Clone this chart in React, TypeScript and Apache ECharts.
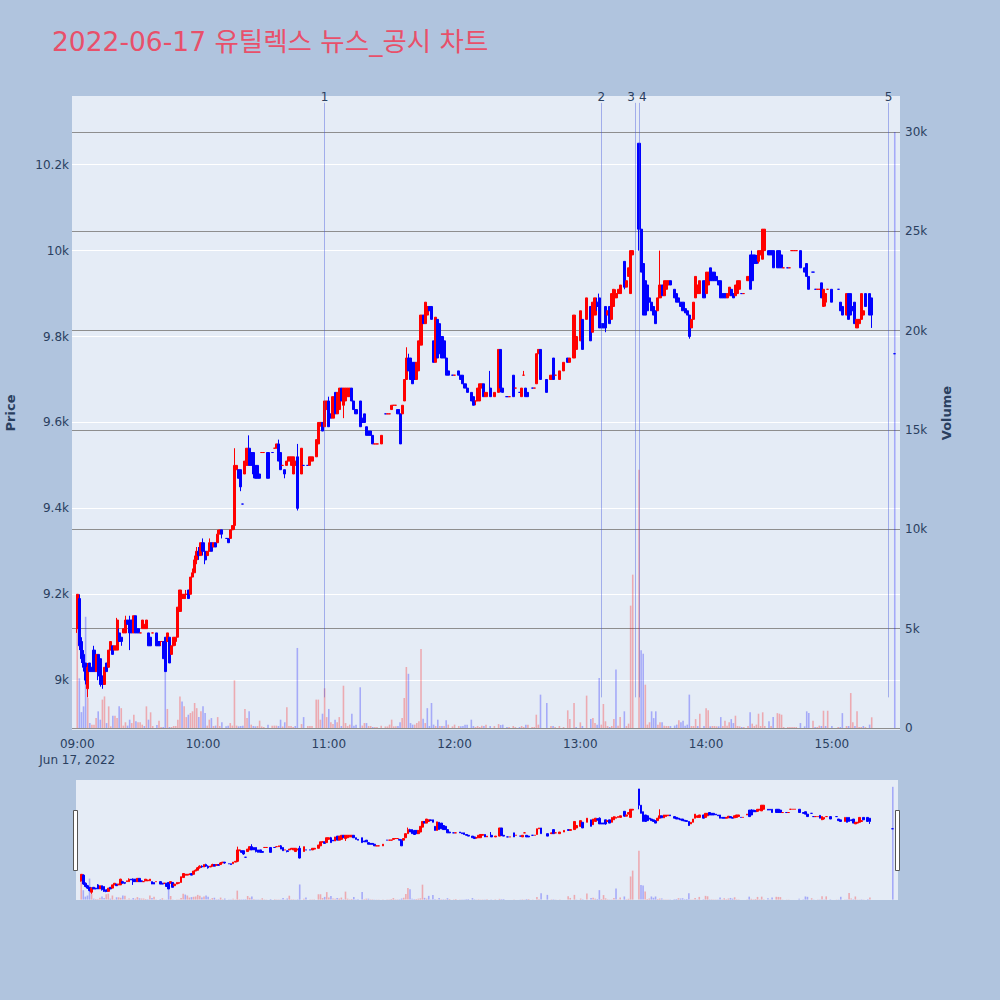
import React, { useEffect, useRef } from 'react';
import * as echarts from 'echarts';

const chartTitle = '2022-06-17 유틸렉스 뉴스_공시 차트';
const dateLabel = 'Jun 17, 2022';
const newsTimes = ['10:58', '13:10', '13:26', '13:28', '15:27'];
const newsLabels = ['1', '2', '3', '4', '5'];
const newsAlign = ['center', 'center', 'right', 'left', 'center'];

// [time, open, close, low, high, volume]
const candles: [string, number, number, number, number, number][] = [
  ['09:00', 9120, 9200, 9110, 9200, 6000], ['09:01', 9190, 9080, 9070, 9200, 2500],
  ['09:02', 9090, 9050, 9040, 9100, 800], ['09:03', 9060, 9030, 9020, 9070, 1090],
  ['09:04', 9040, 9000, 8990, 9040, 5600], ['09:05', 8980, 9030, 8960, 9040, 1510],
  ['09:06', 9040, 9020, 9020, 9040, 250], ['09:07', 9030, 9020, 9020, 9030, 170],
  ['09:08', 9070, 9020, 9020, 9080, 170], ['09:09', 9020, 9060, 9020, 9060, 500],
  ['09:10', 9060, 9010, 9000, 9060, 840], ['09:11', 9050, 8990, 8985, 9050, 420],
  ['09:12', 9010, 8990, 8980, 9010, 1430], ['09:13', 8990, 9030, 8990, 9030, 1590],
  ['09:14', 9040, 9020, 9020, 9040, 250], ['09:15', 9030, 9070, 9030, 9070, 1090],
  ['09:16', 9070, 9090, 9070, 9090, 85], ['09:17', 9080, 9060, 9060, 9080, 620],
  ['09:18', 9070, 9080, 9070, 9080, 620], ['09:19', 9070, 9140, 9070, 9145, 500],
  ['09:20', 9110, 9090, 9090, 9120, 1090], ['09:21', 9100, 9090, 9080, 9100, 1000],
  ['09:22', 9110, 9120, 9110, 9120, 120], ['09:23', 9110, 9140, 9110, 9150, 290],
  ['09:24', 9140, 9130, 9130, 9140, 120], ['09:25', 9140, 9110, 9070, 9150, 420],
  ['09:26', 9140, 9110, 9110, 9140, 250], ['09:27', 9110, 9150, 9110, 9150, 670],
  ['09:28', 9150, 9110, 9110, 9150, 340], ['09:29', 9120, 9110, 9110, 9120, 290],
  ['09:30', 9110, 9110, 9110, 9110, 290], ['09:31', 9120, 9140, 9120, 9140, 170],
  ['09:32', 9120, 9130, 9120, 9130, 100], ['09:33', 9120, 9140, 9120, 9140, 1090],
  ['09:34', 9110, 9080, 9080, 9110, 420], ['09:35', 9100, 9080, 9080, 9100, 790],
  ['09:36', 9110, 9110, 9110, 9110, 100], ['09:38', 9110, 9080, 9080, 9110, 150],
  ['09:39', 9090, 9080, 9080, 9090, 370], ['09:40', 9090, 9090, 9080, 9090, 50],
  ['09:41', 9090, 9050, 9050, 9090, 50], ['09:42', 9100, 9020, 9020, 9100, 4400],
  ['09:43', 9090, 9110, 9090, 9110, 960], ['09:44', 9100, 9040, 9040, 9100, 50],
  ['09:45', 9060, 9080, 9060, 9080, 50], ['09:46', 9080, 9100, 9080, 9100, 100],
  ['09:47', 9090, 9100, 9080, 9100, 100], ['09:48', 9100, 9170, 9100, 9170, 420],
  ['09:49', 9160, 9210, 9160, 9210, 1590], ['09:50', 9190, 9200, 9190, 9200, 1340],
  ['09:51', 9190, 9200, 9190, 9200, 1090], ['09:52', 9200, 9200, 9190, 9210, 550],
  ['09:53', 9210, 9190, 9190, 9210, 670], ['09:54', 9200, 9240, 9200, 9240, 755],
  ['09:55', 9240, 9250, 9240, 9260, 840], ['09:56', 9250, 9280, 9250, 9290, 1260],
  ['09:57', 9280, 9300, 9270, 9310, 1000], ['09:58', 9300, 9290, 9280, 9310, 550],
  ['09:59', 9290, 9320, 9290, 9320, 840], ['10:00', 9320, 9300, 9290, 9330, 1090],
  ['10:01', 9300, 9280, 9270, 9310, 750], ['10:02', 9290, 9300, 9290, 9300, 120],
  ['10:03', 9300, 9320, 9300, 9330, 420], ['10:04', 9320, 9300, 9300, 9320, 500],
  ['10:05', 9310, 9320, 9310, 9320, 100], ['10:06', 9320, 9310, 9310, 9320, 120],
  ['10:07', 9320, 9340, 9320, 9350, 550], ['10:08', 9340, 9350, 9340, 9350, 100],
  ['10:09', 9350, 9340, 9330, 9350, 290], ['10:11', 9330, 9330, 9330, 9330, 85],
  ['10:12', 9330, 9320, 9320, 9330, 120], ['10:13', 9330, 9350, 9330, 9350, 250],
  ['10:14', 9350, 9360, 9350, 9360, 120], ['10:15', 9360, 9500, 9350, 9540, 2400],
  ['10:16', 9490, 9500, 9490, 9500, 120], ['10:17', 9490, 9470, 9470, 9490, 85],
  ['10:18', 9490, 9450, 9440, 9490, 100], ['10:19', 9410, 9410, 9410, 9410, 120],
  ['10:20', 9480, 9510, 9480, 9510, 960], ['10:21', 9500, 9540, 9500, 9540, 500],
  ['10:22', 9540, 9500, 9500, 9570, 840], ['10:23', 9530, 9500, 9500, 9530, 170],
  ['10:24', 9530, 9480, 9470, 9530, 100], ['10:25', 9500, 9470, 9470, 9500, 85],
  ['10:26', 9500, 9470, 9470, 9500, 100], ['10:27', 9480, 9470, 9470, 9480, 370],
  ['10:28', 9530, 9530, 9530, 9530, 80], ['10:29', 9530, 9530, 9530, 9530, 50],
  ['10:31', 9530, 9470, 9470, 9530, 170], ['10:33', 9530, 9530, 9530, 9530, 120],
  ['10:34', 9540, 9540, 9540, 9540, 120], ['10:35', 9540, 9550, 9540, 9550, 120],
  ['10:36', 9550, 9510, 9510, 9560, 100], ['10:37', 9530, 9490, 9490, 9530, 420],
  ['10:38', 9500, 9500, 9500, 9500, 80], ['10:39', 9490, 9480, 9470, 9490, 290],
  ['10:40', 9500, 9510, 9500, 9510, 1040], ['10:41', 9510, 9520, 9510, 9520, 100],
  ['10:42', 9500, 9520, 9500, 9520, 100], ['10:43', 9480, 9520, 9480, 9520, 50],
  ['10:44', 9500, 9510, 9500, 9510, 100], ['10:45', 9520, 9400, 9395, 9550, 4030],
  ['10:47', 9480, 9540, 9480, 9540, 200], ['10:48', 9500, 9500, 9500, 9500, 550],
  ['10:50', 9500, 9500, 9500, 9500, 100], ['10:51', 9500, 9520, 9500, 9520, 100],
  ['10:52', 9510, 9520, 9510, 9520, 100], ['10:54', 9520, 9560, 9520, 9560, 1430],
  ['10:55', 9550, 9600, 9550, 9600, 1430], ['10:56', 9600, 9600, 9590, 9600, 420],
  ['10:57', 9600, 9580, 9580, 9600, 720], ['10:58', 9590, 9650, 9590, 9650, 2000],
  ['10:59', 9630, 9650, 9630, 9650, 550], ['11:00', 9650, 9590, 9590, 9660, 960],
  ['11:01', 9620, 9610, 9610, 9620, 290], ['11:02', 9610, 9660, 9610, 9660, 200],
  ['11:03', 9670, 9620, 9620, 9670, 420], ['11:04', 9620, 9670, 9620, 9670, 290],
  ['11:05', 9630, 9680, 9630, 9680, 550], ['11:06', 9680, 9650, 9650, 9680, 100],
  ['11:07', 9640, 9680, 9610, 9680, 2130], ['11:08', 9650, 9680, 9650, 9680, 250],
  ['11:09', 9660, 9680, 9660, 9680, 100], ['11:10', 9660, 9680, 9660, 9680, 170],
  ['11:11', 9680, 9650, 9650, 9680, 720], ['11:12', 9650, 9630, 9630, 9650, 120],
  ['11:13', 9630, 9620, 9620, 9630, 170], ['11:15', 9650, 9590, 9590, 9650, 2050],
  ['11:16', 9610, 9600, 9600, 9610, 120], ['11:17', 9620, 9600, 9600, 9620, 250],
  ['11:18', 9590, 9570, 9570, 9590, 250], ['11:19', 9580, 9570, 9570, 9580, 100],
  ['11:20', 9580, 9570, 9570, 9580, 100], ['11:21', 9570, 9550, 9550, 9570, 50],
  ['11:22', 9550, 9550, 9550, 9550, 50], ['11:23', 9550, 9550, 9550, 9550, 50],
  ['11:25', 9550, 9570, 9550, 9570, 120], ['11:27', 9620, 9620, 9620, 9620, 80],
  ['11:28', 9620, 9620, 9620, 9620, 80], ['11:29', 9620, 9620, 9620, 9620, 170],
  ['11:30', 9630, 9640, 9630, 9640, 420], ['11:31', 9640, 9640, 9640, 9640, 85],
  ['11:32', 9640, 9640, 9640, 9640, 85], ['11:33', 9630, 9620, 9620, 9630, 100],
  ['11:34', 9620, 9550, 9550, 9630, 290], ['11:35', 9620, 9640, 9620, 9640, 500],
  ['11:36', 9650, 9700, 9650, 9700, 1510], ['11:37', 9700, 9750, 9700, 9775, 3070],
  ['11:38', 9750, 9720, 9720, 9760, 2730], ['11:39', 9750, 9700, 9700, 9750, 250],
  ['11:40', 9740, 9690, 9690, 9740, 170], ['11:41', 9740, 9700, 9700, 9740, 170],
  ['11:42', 9700, 9740, 9700, 9740, 250], ['11:43', 9720, 9790, 9720, 9790, 340],
  ['11:44', 9780, 9850, 9780, 9850, 3980], ['11:45', 9850, 9830, 9830, 9850, 470],
  ['11:46', 9830, 9880, 9830, 9880, 250], ['11:47', 9850, 9870, 9850, 9870, 1000],
  ['11:48', 9870, 9860, 9860, 9870, 100], ['11:49', 9870, 9840, 9840, 9870, 1260],
  ['11:50', 9790, 9740, 9740, 9790, 170], ['11:51', 9740, 9845, 9740, 9845, 100],
  ['11:52', 9840, 9750, 9750, 9840, 420], ['11:53', 9830, 9760, 9760, 9830, 100],
  ['11:54', 9800, 9750, 9750, 9800, 100], ['11:55', 9790, 9750, 9750, 9790, 100],
  ['11:56', 9750, 9710, 9710, 9750, 390], ['11:57', 9720, 9710, 9710, 9720, 170],
  ['11:59', 9710, 9710, 9710, 9710, 85], ['12:00', 9710, 9710, 9710, 9710, 170],
  ['12:02', 9720, 9710, 9710, 9720, 100], ['12:03', 9710, 9700, 9700, 9710, 85],
  ['12:04', 9710, 9690, 9690, 9710, 100], ['12:05', 9690, 9680, 9680, 9690, 170],
  ['12:06', 9680, 9670, 9670, 9680, 170], ['12:08', 9670, 9650, 9650, 9670, 420],
  ['12:09', 9660, 9640, 9640, 9660, 100], ['12:10', 9650, 9650, 9640, 9650, 50],
  ['12:11', 9650, 9680, 9650, 9680, 100], ['12:12', 9650, 9690, 9650, 9690, 50],
  ['12:13', 9680, 9690, 9680, 9690, 120], ['12:14', 9690, 9660, 9660, 9690, 100],
  ['12:15', 9660, 9670, 9660, 9670, 170], ['12:17', 9680, 9660, 9660, 9720, 100],
  ['12:19', 9660, 9670, 9660, 9670, 100], ['12:21', 9670, 9770, 9670, 9770, 200],
  ['12:22', 9770, 9680, 9670, 9770, 150], ['12:23', 9680, 9670, 9670, 9680, 170],
  ['12:25', 9660, 9660, 9660, 9660, 50], ['12:26', 9660, 9660, 9660, 9660, 50],
  ['12:28', 9710, 9660, 9660, 9710, 100], ['12:29', 9680, 9680, 9680, 9680, 50],
  ['12:31', 9670, 9670, 9670, 9670, 50], ['12:32', 9660, 9680, 9660, 9680, 100],
  ['12:33', 9710, 9710, 9710, 9720, 50], ['12:34', 9680, 9660, 9660, 9680, 170],
  ['12:35', 9670, 9660, 9660, 9670, 170], ['12:37', 9680, 9680, 9680, 9680, 50],
  ['12:38', 9680, 9680, 9680, 9680, 50], ['12:39', 9690, 9760, 9690, 9760, 670],
  ['12:40', 9760, 9770, 9760, 9770, 170], ['12:41', 9770, 9700, 9700, 9770, 1680],
  ['12:44', 9700, 9670, 9670, 9700, 1260], ['12:46', 9700, 9710, 9700, 9710, 100],
  ['12:47', 9750, 9700, 9700, 9750, 100], ['12:48', 9710, 9710, 9710, 9710, 50],
  ['12:50', 9700, 9720, 9700, 9720, 100], ['12:52', 9720, 9740, 9720, 9740, 50],
  ['12:54', 9750, 9740, 9740, 9750, 890], ['12:55', 9740, 9750, 9740, 9750, 450],
  ['12:57', 9750, 9850, 9750, 9850, 1260], ['12:58', 9770, 9800, 9770, 9800, 50],
  ['13:00', 9790, 9860, 9790, 9860, 285], ['13:01', 9840, 9770, 9770, 9840, 100],
  ['13:03', 9840, 9890, 9840, 9890, 1630], ['13:05', 9870, 9790, 9790, 9870, 450],
  ['13:06', 9810, 9880, 9810, 9880, 500], ['13:07', 9850, 9890, 9850, 9890, 250],
  ['13:08', 9880, 9870, 9860, 9890, 170], ['13:09', 9890, 9820, 9820, 9900, 2520],
  ['13:10', 9830, 9820, 9820, 9830, 170], ['13:11', 9830, 9820, 9820, 9830, 1210],
  ['13:12', 9870, 9820, 9810, 9870, 340], ['13:13', 9850, 9860, 9850, 9860, 100],
  ['13:14', 9870, 9830, 9830, 9870, 50], ['13:15', 9840, 9900, 9840, 9900, 100],
  ['13:16', 9870, 9910, 9870, 9910, 450], ['13:17', 9890, 9900, 9890, 9910, 2940],
  ['13:18', 9900, 9910, 9900, 9910, 120], ['13:19', 9900, 9920, 9900, 9920, 550],
  ['13:21', 9975, 9915, 9910, 9975, 840], ['13:22', 9915, 9930, 9915, 9930, 100],
  ['13:23', 9940, 9960, 9940, 9960, 220], ['13:24', 9900, 10000, 9900, 10000, 6160],
  ['13:25', 9990, 10000, 9990, 10000, 7720], ['13:28', 10250, 10050, 10000, 10250, 13000],
  ['13:29', 10050, 9950, 9950, 10050, 3910], ['13:30', 9970, 9850, 9850, 9970, 3740],
  ['13:31', 9930, 9850, 9850, 9930, 2180], ['13:32', 9920, 9860, 9860, 9920, 170],
  ['13:33', 9890, 9880, 9880, 9890, 290], ['13:34', 9880, 9860, 9860, 9880, 840],
  ['13:35', 9870, 9850, 9850, 9870, 500], ['13:36', 9860, 9830, 9830, 9860, 840],
  ['13:37', 9860, 9890, 9860, 9890, 170], ['13:38', 9890, 9920, 9890, 10000, 290],
  ['13:39', 9920, 9895, 9895, 9920, 290], ['13:40', 9895, 9930, 9895, 9930, 120],
  ['13:41', 9910, 9930, 9910, 9930, 100], ['13:42', 9920, 9930, 9920, 9930, 100],
  ['13:43', 9930, 9920, 9920, 9930, 100], ['13:45', 9910, 9890, 9890, 9910, 120],
  ['13:46', 9900, 9880, 9880, 9900, 170], ['13:47', 9890, 9880, 9880, 9890, 390],
  ['13:48', 9880, 9870, 9870, 9880, 290], ['13:49', 9880, 9860, 9860, 9880, 370],
  ['13:50', 9865, 9855, 9855, 9865, 120], ['13:51', 9860, 9850, 9850, 9860, 170],
  ['13:52', 9850, 9800, 9795, 9850, 1680], ['13:53', 9820, 9840, 9820, 9840, 100],
  ['13:54', 9840, 9880, 9840, 9880, 100], ['13:55', 9890, 9940, 9890, 9940, 450],
  ['13:56', 9900, 9920, 9900, 9920, 100], ['13:57', 9900, 9930, 9900, 9930, 720],
  ['13:59', 9930, 9890, 9890, 9930, 100], ['14:00', 9900, 9950, 9900, 9950, 1000],
  ['14:01', 9920, 9950, 9920, 9950, 890], ['14:02', 9960, 9930, 9930, 9960, 85],
  ['14:03', 9950, 9930, 9930, 9950, 100], ['14:04', 9950, 9930, 9930, 9950, 100],
  ['14:05', 9940, 9930, 9930, 9940, 85], ['14:06', 9930, 9920, 9920, 9930, 85],
  ['14:07', 9930, 9890, 9890, 9930, 550], ['14:08', 9900, 9890, 9890, 9900, 100],
  ['14:09', 9900, 9890, 9890, 9900, 370], ['14:10', 9890, 9900, 9890, 9900, 120],
  ['14:11', 9895, 9915, 9895, 9915, 290], ['14:12', 9910, 9895, 9895, 9910, 450],
  ['14:13', 9900, 9890, 9890, 9900, 250], ['14:14', 9895, 9920, 9895, 9920, 620],
  ['14:15', 9900, 9930, 9900, 9930, 100], ['14:16', 9910, 9930, 9910, 9930, 85],
  ['14:17', 9900, 9900, 9900, 9900, 50], ['14:18', 9900, 9900, 9900, 9900, 50],
  ['14:20', 9930, 9940, 9930, 9940, 100], ['14:21', 9990, 9910, 9910, 9990, 790],
  ['14:22', 9990, 9930, 9930, 10000, 220], ['14:23', 9990, 9970, 9970, 9990, 100],
  ['14:24', 9980, 9970, 9970, 9990, 170], ['14:25', 9975, 10000, 9970, 10000, 720],
  ['14:26', 9990, 10000, 9990, 10000, 100], ['14:27', 9980, 10050, 9980, 10050, 790],
  ['14:28', 10000, 10050, 10000, 10050, 100], ['14:30', 10000, 9990, 9990, 10000, 340],
  ['14:31', 10000, 9990, 9990, 10000, 100], ['14:32', 10000, 9960, 9960, 10000, 550],
  ['14:34', 10000, 9960, 9960, 10000, 750], ['14:35', 10000, 9960, 9960, 10000, 720],
  ['14:36', 9990, 9960, 9960, 9990, 670], ['14:37', 9960, 9960, 9960, 9960, 50],
  ['14:39', 9960, 9960, 9960, 9960, 50], ['14:40', 9960, 9960, 9960, 9960, 50],
  ['14:41', 10000, 10000, 10000, 10000, 50], ['14:42', 10000, 10000, 10000, 10000, 50],
  ['14:43', 10000, 10000, 10000, 10000, 50], ['14:45', 10000, 9960, 9960, 10000, 250],
  ['14:47', 9960, 9950, 9950, 9960, 85], ['14:48', 9970, 9940, 9940, 9970, 840],
  ['14:49', 9940, 9910, 9910, 9940, 750], ['14:51', 9950, 9950, 9950, 9950, 370],
  ['14:52', 9910, 9910, 9910, 9910, 50], ['14:53', 9910, 9910, 9910, 9910, 50],
  ['14:54', 9910, 9910, 9910, 9910, 120], ['14:55', 9925, 9890, 9890, 9925, 100],
  ['14:56', 9870, 9910, 9870, 9910, 870], ['14:57', 9880, 9900, 9870, 9900, 100],
  ['14:58', 9910, 9910, 9910, 9910, 870], ['15:00', 9910, 9880, 9880, 9910, 100],
  ['15:03', 9910, 9910, 9910, 9910, 50], ['15:04', 9880, 9860, 9860, 9880, 50],
  ['15:05', 9870, 9850, 9850, 9870, 750], ['15:07', 9850, 9900, 9850, 9900, 100],
  ['15:08', 9900, 9840, 9840, 9900, 100], ['15:09', 9900, 9850, 9850, 9900, 1760],
  ['15:10', 9870, 9860, 9860, 9870, 290], ['15:11', 9880, 9830, 9830, 9880, 100],
  ['15:12', 9820, 9840, 9820, 9840, 840], ['15:13', 9830, 9840, 9830, 9840, 50],
  ['15:14', 9840, 9900, 9840, 9900, 50], ['15:15', 9850, 9860, 9850, 9860, 100],
  ['15:16', 9900, 9870, 9870, 9900, 50], ['15:18', 9900, 9850, 9850, 9900, 170],
  ['15:19', 9890, 9850, 9820, 9890, 540], ['15:30', 9760, 9760, 9760, 9760, 30000],
];

const FONT = '"DejaVu Sans", "Noto Sans CJK KR", sans-serif';
const TICK = '#2a3f5f';
const UP = '#ff0000';
const DOWN = '#0000ff';
const VOL_UP = 'rgba(255,0,0,0.28)';
const VOL_DOWN = 'rgba(0,0,255,0.28)';
const PRICE_MIN = 8884;
const PRICE_MAX = 10360;
const VOL_MIN = -100;
const VOL_MAX = 31813;
const NEWS_LOW = 8960;
const NEWS_HIGH = 10344;

function pad(n: number) { return String(n).padStart(2, '0'); }
const minutes: string[] = [];
for (let t = 8 * 60 + 58; t <= 15 * 60 + 32; t++) minutes.push(`${pad(Math.floor(t / 60))}:${pad(t % 60)}`);

function buildSeriesData() {
  const byTime = new Map(candles.map((r) => [r[0], r]));
  const ohlc: any[] = [];
  const vols: any[] = [];
  let prevClose: number | null = null;
  for (const m of minutes) {
    const r = byTime.get(m);
    if (!r) {
      ohlc.push(['-', '-', '-', '-']);
      vols.push('-');
      continue;
    }
    const [, o, c, l, h, v] = r;
    ohlc.push([o, c, l, h]);
    const up = c >= (prevClose ?? o);
    vols.push({ value: v, itemStyle: { color: up ? VOL_UP : VOL_DOWN } });
    prevClose = c;
  }
  return { ohlc, vols };
}

export default function App() {
  const ref = useRef<HTMLDivElement>(null);
  useEffect(() => {
    document.body.style.margin = '0';
    const chart = echarts.init(ref.current!, undefined, { renderer: 'svg' });
    const { ohlc, vols } = buildSeriesData();
    const candleStyle = {
      color: UP, color0: DOWN, borderColor: UP, borderColor0: DOWN, borderWidth: 1,
    };
    chart.setOption({
      animation: false,
      backgroundColor: '#b0c4de',
      textStyle: { fontFamily: FONT },
      title: {
        text: chartTitle, left: 47, top: 23,
        textStyle: { color: '#e8506a', fontSize: 26.5, fontWeight: 'normal', fontFamily: FONT },
      },
      grid: [
        { left: 72, top: 96, width: 828, height: 634, show: true, backgroundColor: '#e5ecf6', borderWidth: 0, containLabel: false, outerBoundsMode: 'none' },
        { left: 76, top: 780, width: 822, height: 120, show: true, backgroundColor: '#e5ecf6', borderWidth: 0, containLabel: false, outerBoundsMode: 'none' },
      ],
      xAxis: [
        {
          type: 'category', gridIndex: 0, data: minutes, boundaryGap: true,
          axisLine: { show: false }, axisTick: { show: false }, splitLine: { show: false },
          axisLabel: {
            interval: (_i: number, v: string) => v.endsWith(':00'),
            formatter: (v: string) => (v === '09:00' ? `09:00\n${dateLabel}` : v),
            color: TICK, fontSize: 12, margin: 6, lineHeight: 16, fontFamily: FONT,
          },
        },
        { type: 'category', gridIndex: 1, data: minutes, boundaryGap: true, show: false },
      ],
      yAxis: [
        {
          type: 'value', gridIndex: 0, position: 'left', min: PRICE_MIN, max: PRICE_MAX, splitNumber: 7,
          axisLine: { show: false }, axisTick: { show: false },
          splitLine: { showMinLine: false, showMaxLine: false, lineStyle: { color: '#ffffff', width: 1 } },
          axisLabel: {
            color: TICK, fontSize: 12, margin: 3, showMinLabel: false, showMaxLabel: false,
            formatter: (v: number) => `${v / 1000}k`, fontFamily: FONT,
          },
          name: 'Price', nameLocation: 'middle', nameRotate: 90, nameGap: 55,
          nameTextStyle: { color: TICK, fontSize: 13, fontWeight: 'bold', fontFamily: FONT },
        },
        {
          type: 'value', gridIndex: 0, position: 'right', min: VOL_MIN, max: VOL_MAX, splitNumber: 6,
          axisLine: { show: false }, axisTick: { show: false },
          splitLine: { showMinLine: false, showMaxLine: false, lineStyle: { color: '#8e8e8e', width: 1 } },
          axisLabel: {
            color: TICK, fontSize: 12, margin: 5, showMinLabel: false, showMaxLabel: false,
            formatter: (v: number) => (v === 0 ? '0' : `${v / 1000}k`), fontFamily: FONT,
          },
          name: 'Volume', nameLocation: 'middle', nameRotate: 90, nameGap: 40,
          nameTextStyle: { color: TICK, fontSize: 13, fontWeight: 'bold', fontFamily: FONT },
        },
        { type: 'value', gridIndex: 1, min: PRICE_MIN, max: PRICE_MAX, show: false, splitLine: { show: false } },
        { type: 'value', gridIndex: 1, min: VOL_MIN, max: VOL_MAX, show: false, splitLine: { show: false } },
      ],
      series: [
        {
          type: 'bar', xAxisIndex: 0, yAxisIndex: 1, data: vols, barWidth: 1.6, z: 1,
        },
        {
          type: 'candlestick', xAxisIndex: 0, yAxisIndex: 0, data: ohlc, barWidth: 2.6, z: 3,
          itemStyle: candleStyle,
          markLine: {
            silent: true, symbol: ['none', 'none'], animation: false,
            lineStyle: { color: 'rgba(60,80,220,0.4)', width: 1, type: 'solid' },
            label: {
              show: true, position: 'end', distance: 0, color: TICK, fontSize: 12, fontFamily: FONT,
              formatter: (p: any) => p.name,
            },
            data: newsTimes.map((t, i) => [
              { name: newsLabels[i], coord: [t, NEWS_LOW], label: { align: newsAlign[i] } },
              { coord: [t, NEWS_HIGH] },
            ]),
          },
        },
        {
          type: 'bar', xAxisIndex: 1, yAxisIndex: 3, data: vols, barWidth: 1.6, z: 1,
        },
        {
          type: 'candlestick', xAxisIndex: 1, yAxisIndex: 2, data: ohlc, barWidth: 2.2, z: 3,
          itemStyle: candleStyle,
        },
      ],
      graphic: [
        { type: 'rect', left: 73, top: 810, shape: { width: 4, height: 60 }, style: { fill: '#ffffff', stroke: '#555', lineWidth: 1 } },
        { type: 'rect', left: 895, top: 810, shape: { width: 4, height: 60 }, style: { fill: '#ffffff', stroke: '#555', lineWidth: 1 } },
      ],
    });
    return () => chart.dispose();
  }, []);
  return <div ref={ref} style={{ width: 1000, height: 1000 }} />;
}
